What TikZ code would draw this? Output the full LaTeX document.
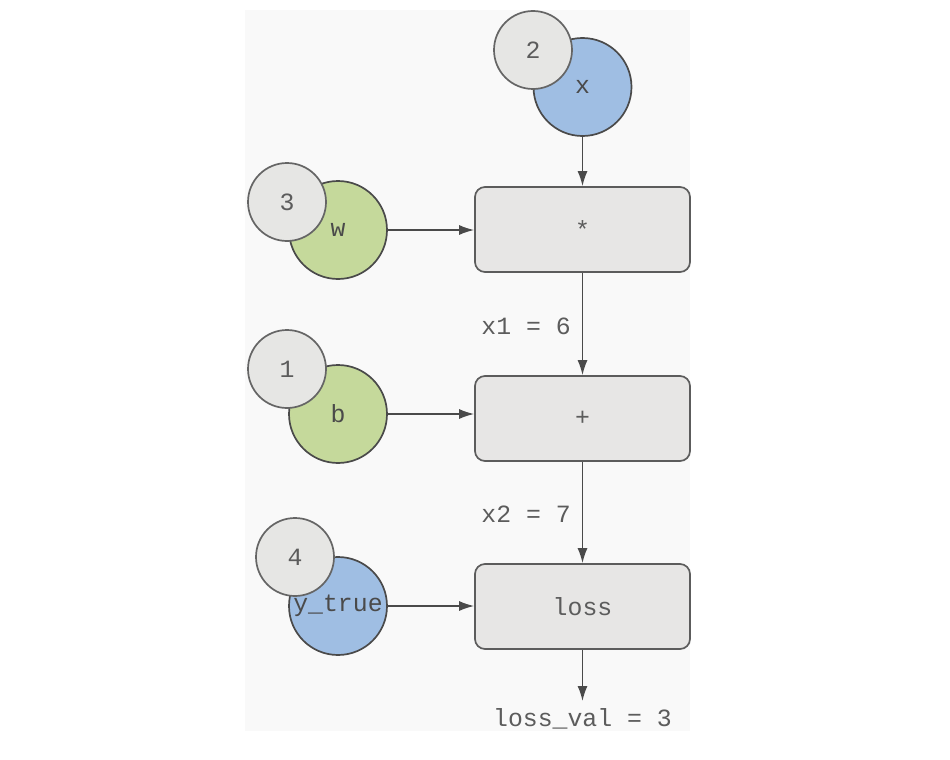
\documentclass[tikz,border=0pt]{standalone}
\usepackage{fontspec}
\setmonofont{Liberation Mono}
\usetikzlibrary{arrows.meta}
\definecolor{valblue}{HTML}{9FBEE3}
\definecolor{valgreen}{HTML}{C5D99B}
\definecolor{idxgray}{HTML}{E6E6E4}
\definecolor{opgray}{HTML}{E7E6E5}
\definecolor{panelgray}{HTML}{F9F9F9}
\definecolor{inkgray}{HTML}{4A4A4A}
\newcommand{\codesize}{\ttfamily\fontsize{24.8}{28}\selectfont}

\begin{document}
\begin{tikzpicture}[x=1pt,y=-1pt,
  valnode/.style={circle,draw=inkgray,line width=1.7pt,minimum size=98pt,inner sep=0pt,
    font=\codesize,text=inkgray},
  idxnode/.style={circle,draw=inkgray!85,fill=idxgray,line width=1.7pt,minimum size=78pt,
    inner sep=0pt,font=\codesize,text=inkgray!90},
  opbox/.style={draw=inkgray!90,fill=opgray,rounded corners=10pt,line width=1.7pt,
    minimum width=215pt,minimum height=85pt,font=\codesize,text=inkgray!90},
  lbl/.style={font=\codesize,text=inkgray!90,inner sep=0pt},
  flow/.style={-{Latex[length=15pt,width=10pt]},line width=1.5pt,draw=inkgray}]
\useasboundingbox (0,0) rectangle (950,760);
\fill[panelgray] (245,10) rectangle (690,731);
% operations
\node[opbox] (mul) at (582.5,229.5) {*};
\node[opbox] (add) at (582.5,418.5) {+};
\node[opbox] (loss) at (582.5,606.5) {loss};
% inputs
\node[valnode,fill=valblue] (x) at (582.5,87) {x};
\node[idxnode] (n2) at (533,50) {2};
\node[valnode,fill=valgreen] (w) at (338,230) {w};
\node[idxnode] (n3) at (287,202) {3};
\node[valnode,fill=valgreen] (b) at (338,414) {b};
\node[idxnode] (n1) at (287,369) {1};
\node[valnode,fill=valblue] (ytrue) at (338,606) {y\_true};
\node[idxnode] (n4) at (295,557) {4};
% edges
\draw[flow] (x) -- (mul);
\draw[flow] (w) -- (mul.west |- w);
\draw[flow] (mul) -- node[lbl,left=11pt,yshift=-2pt] {x1 = 6} (add);
\draw[flow] (b) -- (add.west |- b);
\draw[flow] (add) -- node[lbl,left=11pt,yshift=-2pt] {x2 = 7} (loss);
\draw[flow] (ytrue) -- (loss.west |- ytrue);
\coordinate (out) at (582.5,701);
\draw[flow] (loss) -- (out);
\node[lbl] (lossval) at (582.5,719) {loss\_val = 3};
\end{tikzpicture}
\end{document}
